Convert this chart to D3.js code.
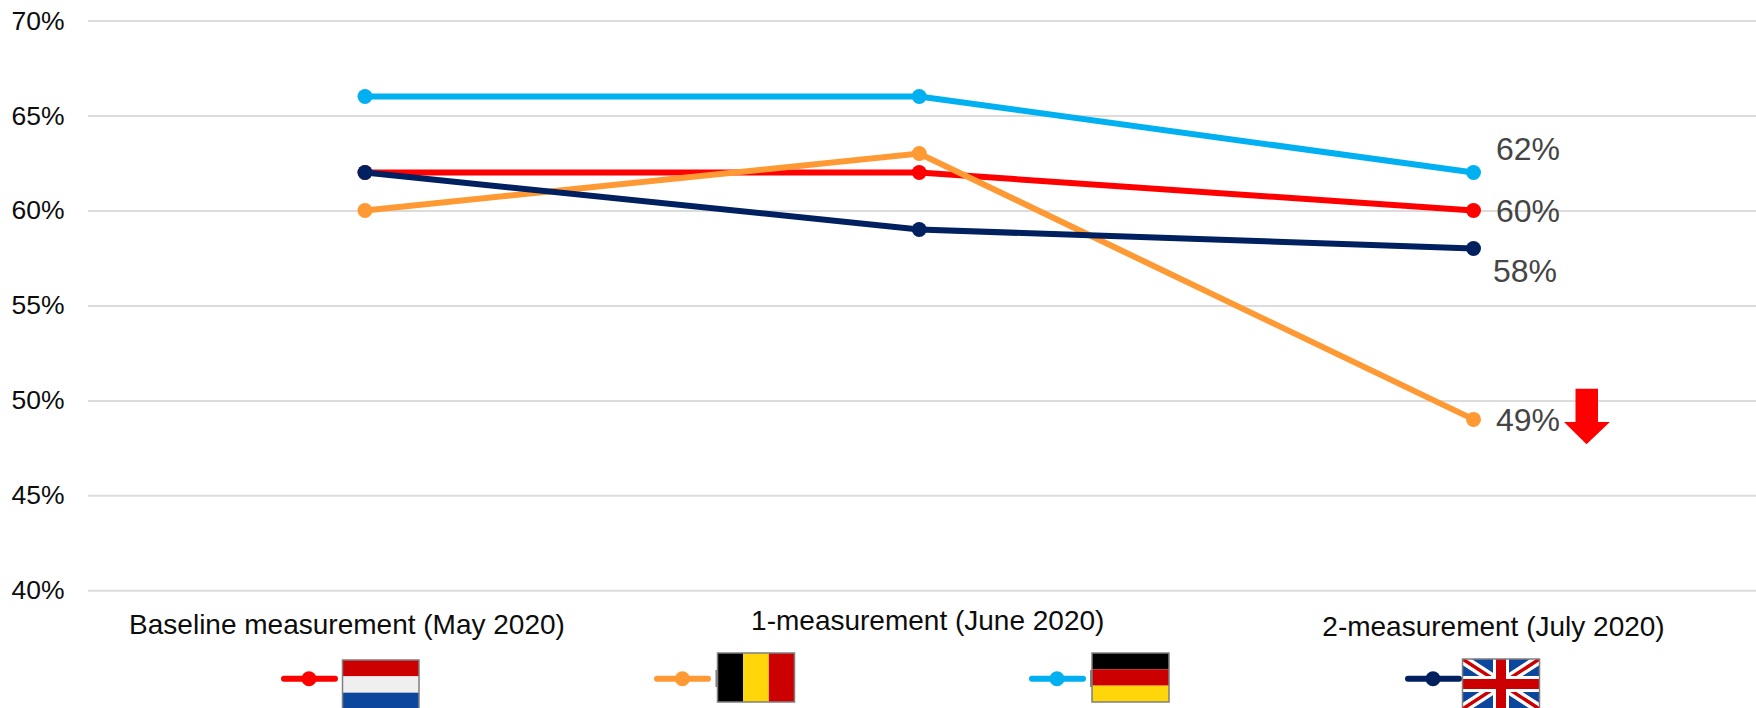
<!DOCTYPE html>
<html>
<head>
<meta charset="utf-8">
<script src="https://cdnjs.cloudflare.com/ajax/libs/d3/7.8.5/d3.min.js"></script>
<style>
html,body{margin:0;padding:0;background:#fff}
svg{display:block;font-family:"Liberation Sans",Arial,sans-serif}
</style>
</head>
<body>
<svg id="chart" width="1756" height="708"></svg>
<script>
const categories = ["Baseline measurement (May 2020)", "1-measurement (June 2020)", "2-measurement (July 2020)"];
const yTicks = [40, 45, 50, 55, 60, 65, 70];
const netherlands = [62, 62, 60];
const belgium = [60, 63, 49];
const germany = [66, 66, 62];
const unitedKingdom = [62, 59, 58];
const seriesNames = ["Netherlands", "Belgium", "Germany", "United Kingdom"];
const seriesColors = ["#ff0000", "#ff9933", "#00b0f0", "#002060"];

const allSeries = [netherlands, belgium, germany, unitedKingdom];
const svg = d3.select("#chart");

const x = d3.scalePoint().domain(categories).range([365, 1473.5]);
const y = d3.scaleLinear().domain([40, 70]).range([590.3, 20.6]);

// Gridlines and percent labels
const axis = svg.append("g").attr("transform", "translate(88,0)")
  .call(d3.axisLeft(y).tickValues(yTicks).tickSize(-1668).tickPadding(23.5).tickFormat(d => d + "%"));
axis.select(".domain").remove();
axis.selectAll(".tick line").attr("stroke", "#dcdcdc").attr("stroke-width", 2);
axis.selectAll(".tick text").attr("fill", "#0d0d0d").style("font-size", "26.5px").attr("font-family", "Liberation Sans");

// Category labels sit at slightly different heights and offsets
const labelShift = [[-18, 633.5], [8.5, 629.5], [20, 635.5]];
svg.append("g").selectAll("text").data(categories).join("text")
  .attr("x", (d, i) => x(d) + labelShift[i][0])
  .attr("y", (d, i) => labelShift[i][1])
  .attr("text-anchor", "middle")
  .attr("fill", "#0d0d0d")
  .style("font-size", "28px")
  .text(d => d);

// Series lines and markers
const line = d3.line().x((d, i) => x(categories[i])).y(d => y(d));
const marks = svg.append("g");
allSeries.forEach((values, s) => {
  const g = marks.append("g").attr("data-series", seriesNames[s]);
  g.append("path").attr("d", line(values)).attr("fill", "none")
    .attr("stroke", seriesColors[s]).attr("stroke-width", 6).attr("stroke-linecap", "round");
  g.selectAll("circle").data(values).join("circle")
    .attr("cx", (d, i) => x(categories[i])).attr("cy", d => y(d)).attr("r", 7.5)
    .attr("fill", seriesColors[s]);
});

// End-of-line value labels, placed by hand so they do not collide
const endLabels = [
  { values: germany, dx: 22.5, baseline: 160 },
  { values: netherlands, dx: 22.5, baseline: 222 },
  { values: unitedKingdom, dx: 19.5, baseline: 282 },
  { values: belgium, dx: 22.5, baseline: 431 }
];
svg.append("g").selectAll("text").data(endLabels).join("text")
  .attr("x", d => x(categories[2]) + d.dx)
  .attr("y", d => d.baseline)
  .attr("fill", "#454545")
  .style("font-size", "32px")
  .text(d => d.values[2] + "%");

// Downward arrow beside the Belgian drop
svg.append("path")
  .attr("d", "M1575.5,388.7H1598V422H1609.9L1586.5,444.3L1564,422H1575.5Z")
  .attr("fill", "#ff0000");

// Legend: a line sample followed by a flag
const legendAt = [
  { x1: 284, x2: 335, cx: 309, y: 678.7 },
  { x1: 657, x2: 708, cx: 682.4, y: 678.7 },
  { x1: 1032, x2: 1083, cx: 1057, y: 678.7 },
  { x1: 1408, x2: 1459, cx: 1433, y: 678.7 }
];
const legend = svg.append("g");
legendAt.forEach((p, i) => {
  legend.append("line").attr("x1", p.x1).attr("x2", p.x2).attr("y1", p.y).attr("y2", p.y)
    .attr("stroke", seriesColors[i]).attr("stroke-width", 6).attr("stroke-linecap", "round");
  legend.append("circle").attr("cx", p.cx).attr("cy", p.y).attr("r", 7.5).attr("fill", seriesColors[i]);
});

const BORDER = "#7f7f7f";
function stripedFlag(fx, fy, w, h, colors, vertical) {
  const g = legend.append("g");
  const band = d3.scaleBand().domain(d3.range(colors.length)).range(vertical ? [fx, fx + w] : [fy, fy + h]);
  g.selectAll("rect").data(colors).join("rect")
    .attr("x", (d, i) => vertical ? band(i) : fx)
    .attr("y", (d, i) => vertical ? fy : band(i))
    .attr("width", vertical ? band.bandwidth() : w)
    .attr("height", vertical ? h : band.bandwidth())
    .attr("fill", d => d);
  g.append("rect").attr("x", fx).attr("y", fy).attr("width", w).attr("height", h)
    .attr("fill", "none").attr("stroke", BORDER).attr("stroke-width", 1.5);
}

stripedFlag(342.5, 660, 76.5, 49, ["#cc0000", "#efefef", "#0c479d"], false);
legend.append("rect").attr("x", 715.5).attr("y", 670).attr("width", 2).attr("height", 17).attr("fill", BORDER);
stripedFlag(717.5, 653, 77, 49, ["#000000", "#ffd60a", "#cc0000"], true);
legend.append("rect").attr("x", 1090).attr("y", 670).attr("width", 2).attr("height", 17).attr("fill", BORDER);
stripedFlag(1092, 653, 77, 49, ["#000000", "#cc0000", "#ffd60a"], false);

// Union flag
(function () {
  const fx = 1462.5, fy = 659, w = 77, h = 50;
  svg.append("clipPath").attr("id", "ukClip").append("rect")
    .attr("x", fx).attr("y", fy).attr("width", w).attr("height", h);
  const g = legend.append("g").attr("clip-path", "url(#ukClip)");
  g.append("rect").attr("x", fx).attr("y", fy).attr("width", w).attr("height", h).attr("fill", "#0c479d");
  const diag = `M${fx},${fy}L${fx + w},${fy + h}M${fx + w},${fy}L${fx},${fy + h}`;
  g.append("path").attr("d", diag).attr("stroke", "#fff").attr("stroke-width", 10);
  g.append("path").attr("d", diag).attr("stroke", "#cc0000").attr("stroke-width", 3.5);
  const cross = `M${fx + w / 2},${fy}V${fy + h}M${fx},${fy + h / 2}H${fx + w}`;
  g.append("path").attr("d", cross).attr("stroke", "#fff").attr("stroke-width", 16);
  g.append("path").attr("d", cross).attr("stroke", "#cc0000").attr("stroke-width", 10);
  legend.append("rect").attr("x", fx).attr("y", fy).attr("width", w).attr("height", h)
    .attr("fill", "none").attr("stroke", BORDER).attr("stroke-width", 1.5);
})();
</script>
</body>
</html>
